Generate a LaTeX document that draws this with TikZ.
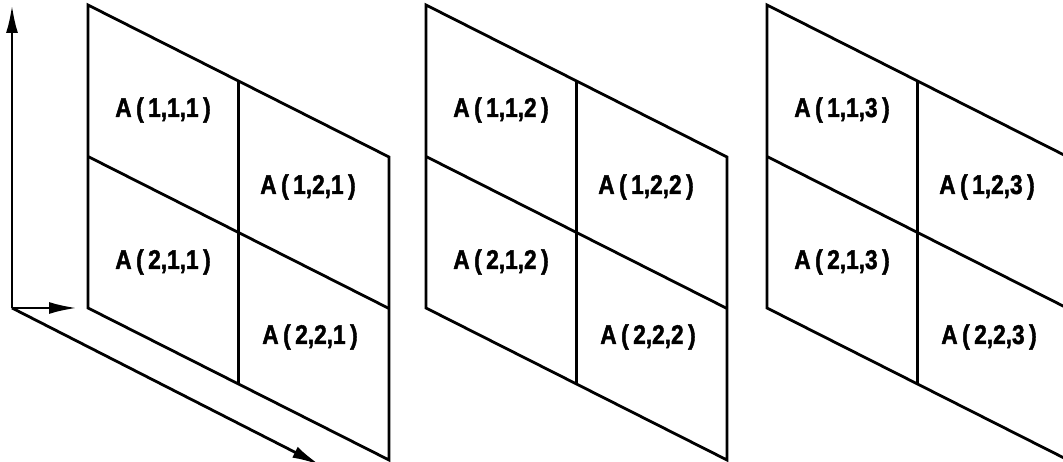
\documentclass[tikz,border=0pt]{standalone}
\usepackage{fontspec}
\newfontfamily\cellfont[FakeStretch=0.84,BoldFeatures={FakeBold=1.6}]{Liberation Sans}
\usetikzlibrary{arrows.meta,calc}

\begin{document}
\begin{tikzpicture}[x=1pt,y=1pt,line width=2.8pt,line join=miter,
  cell/.style={font=\cellfont\bfseries\fontsize{27}{27}\selectfont,inner sep=0pt},
  axis/.style={-{Latex[length=28pt,width=12pt]}}]
  \useasboundingbox (0,0) rectangle (1063,462);
  \coordinate (o) at (12,154);
  \coordinate (up) at (12,457);
  \coordinate (rt) at (77,154);
  \coordinate (dn) at (320,-3);
  \draw[axis] (o) -- (up);
  \draw[axis] (o) -- (rt);
  \draw[axis] (o) -- (dn);
  \foreach \k/\px in {1/88,2/426,3/767}{
    \coordinate (p\k) at (\px,457);
    \draw (p\k) -- ++(301,-152) -- ++(0,-303) -- ++(-301,152) -- cycle;
    \draw ($(p\k)+(150.5,-76)$) -- ++(0,-303);
    \draw ($(p\k)+(0,-151.5)$) -- ++(301,-152);
    \node[cell] (a11\k) at ($(p\k)+(75,-105)$) {A\,(\,1,1,\k\,)};
    \node[cell] (a12\k) at ($(p\k)+(220,-182)$) {A\,(\,1,2,\k\,)};
    \node[cell] (a21\k) at ($(p\k)+(75,-257)$) {A\,(\,2,1,\k\,)};
    \node[cell] (a22\k) at ($(p\k)+(222,-332)$) {A\,(\,2,2,\k\,)};
  }
\end{tikzpicture}
\end{document}
